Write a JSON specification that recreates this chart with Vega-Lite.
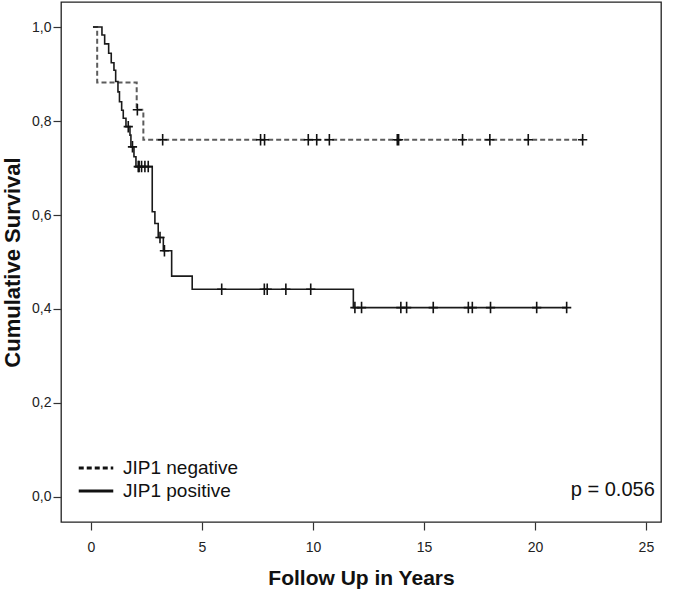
{
  "$schema": "https://vega.github.io/schema/vega-lite/v6.json",
  "width": 600,
  "height": 520,
  "autosize": {"type": "none"},
  "padding": {"left": 61, "top": 2, "right": 15, "bottom": 70},
  "background": "white",
  "config": {
    "view": {"stroke": "#222", "strokeWidth": 1.3},
    "axis": {
      "grid": false,
      "domain": false,
      "tickColor": "#333",
      "tickWidth": 1.2,
      "labelFont": "Liberation Sans",
      "labelFontSize": 14,
      "labelColor": "#222",
      "titleFont": "Liberation Sans",
      "titleFontWeight": "bold",
      "titleColor": "#111"
    },
    "legend": {
      "labelFont": "Liberation Sans",
      "labelFontSize": 19,
      "labelColor": "#111"
    }
  },
  "datasets": {
    "curves": [
      {"group": "JIP1 negative", "time": 0.09, "surv": 1.0},
      {"group": "JIP1 negative", "time": 0.28, "surv": 0.882},
      {"group": "JIP1 negative", "time": 2.06, "surv": 0.824},
      {"group": "JIP1 negative", "time": 2.36, "surv": 0.760},
      {"group": "JIP1 negative", "time": 22.15, "surv": 0.760},
      {"group": "JIP1 positive", "time": 0.09, "surv": 1.0},
      {"group": "JIP1 positive", "time": 0.495, "surv": 0.983},
      {"group": "JIP1 positive", "time": 0.617, "surv": 0.964},
      {"group": "JIP1 positive", "time": 0.797, "surv": 0.944},
      {"group": "JIP1 positive", "time": 0.914, "surv": 0.924},
      {"group": "JIP1 positive", "time": 1.036, "surv": 0.908},
      {"group": "JIP1 positive", "time": 1.113, "surv": 0.884},
      {"group": "JIP1 positive", "time": 1.216, "surv": 0.862},
      {"group": "JIP1 positive", "time": 1.284, "surv": 0.841},
      {"group": "JIP1 positive", "time": 1.383, "surv": 0.823},
      {"group": "JIP1 positive", "time": 1.455, "surv": 0.806},
      {"group": "JIP1 positive", "time": 1.577, "surv": 0.788},
      {"group": "JIP1 positive", "time": 1.757, "surv": 0.770},
      {"group": "JIP1 positive", "time": 1.80, "surv": 0.745},
      {"group": "JIP1 positive", "time": 1.937, "surv": 0.724},
      {"group": "JIP1 positive", "time": 2.027, "surv": 0.703},
      {"group": "JIP1 positive", "time": 2.76, "surv": 0.607},
      {"group": "JIP1 positive", "time": 2.88, "surv": 0.582},
      {"group": "JIP1 positive", "time": 3.03, "surv": 0.552},
      {"group": "JIP1 positive", "time": 3.26, "surv": 0.524},
      {"group": "JIP1 positive", "time": 3.635, "surv": 0.470},
      {"group": "JIP1 positive", "time": 4.56, "surv": 0.442},
      {"group": "JIP1 positive", "time": 11.82, "surv": 0.403},
      {"group": "JIP1 positive", "time": 21.43, "surv": 0.403}
    ],
    "censored": [
      {"group": "JIP1 negative", "time": 2.09, "surv": 0.824},
      {"group": "JIP1 negative", "time": 3.23, "surv": 0.760},
      {"group": "JIP1 negative", "time": 7.64, "surv": 0.760},
      {"group": "JIP1 negative", "time": 7.82, "surv": 0.760},
      {"group": "JIP1 negative", "time": 9.79, "surv": 0.760},
      {"group": "JIP1 negative", "time": 10.17, "surv": 0.760},
      {"group": "JIP1 negative", "time": 10.74, "surv": 0.760},
      {"group": "JIP1 negative", "time": 13.80, "surv": 0.760},
      {"group": "JIP1 negative", "time": 13.86, "surv": 0.760},
      {"group": "JIP1 negative", "time": 16.74, "surv": 0.760},
      {"group": "JIP1 negative", "time": 17.97, "surv": 0.760},
      {"group": "JIP1 negative", "time": 19.70, "surv": 0.760},
      {"group": "JIP1 negative", "time": 22.15, "surv": 0.760},
      {"group": "JIP1 positive", "time": 1.68, "surv": 0.788},
      {"group": "JIP1 positive", "time": 1.87, "surv": 0.745},
      {"group": "JIP1 positive", "time": 2.13, "surv": 0.703},
      {"group": "JIP1 positive", "time": 2.17, "surv": 0.703},
      {"group": "JIP1 positive", "time": 2.28, "surv": 0.703},
      {"group": "JIP1 positive", "time": 2.43, "surv": 0.703},
      {"group": "JIP1 positive", "time": 2.58, "surv": 0.703},
      {"group": "JIP1 positive", "time": 3.11, "surv": 0.552},
      {"group": "JIP1 positive", "time": 3.31, "surv": 0.524},
      {"group": "JIP1 positive", "time": 5.89, "surv": 0.442},
      {"group": "JIP1 positive", "time": 7.81, "surv": 0.442},
      {"group": "JIP1 positive", "time": 7.94, "surv": 0.442},
      {"group": "JIP1 positive", "time": 8.78, "surv": 0.442},
      {"group": "JIP1 positive", "time": 9.90, "surv": 0.442},
      {"group": "JIP1 positive", "time": 11.89, "surv": 0.403},
      {"group": "JIP1 positive", "time": 12.19, "surv": 0.403},
      {"group": "JIP1 positive", "time": 13.96, "surv": 0.403},
      {"group": "JIP1 positive", "time": 14.22, "surv": 0.403},
      {"group": "JIP1 positive", "time": 15.42, "surv": 0.403},
      {"group": "JIP1 positive", "time": 17.00, "surv": 0.403},
      {"group": "JIP1 positive", "time": 17.18, "surv": 0.403},
      {"group": "JIP1 positive", "time": 18.00, "surv": 0.403},
      {"group": "JIP1 positive", "time": 20.08, "surv": 0.403},
      {"group": "JIP1 positive", "time": 21.43, "surv": 0.403}
    ],
    "note": [{"label": "p = 0.056", "time": 25.4, "surv": 0.015}]
  },
  "layer": [
    {
      "data": {"name": "curves"},
      "mark": {"type": "line", "interpolate": "step-after"},
      "encoding": {
        "x": {
          "field": "time", "type": "quantitative",
          "scale": {"domain": [-1.35, 25.68], "nice": false, "zero": false},
          "axis": {"values": [0, 5, 10, 15, 20, 25], "tickSize": 8, "labelPadding": 10, "title": "Follow Up in Years", "titleFontSize": 21, "titlePadding": 13}
        },
        "y": {
          "field": "surv", "type": "quantitative",
          "scale": {"domain": [-0.0532, 1.0532], "nice": false, "zero": false},
          "axis": {"values": [0, 0.2, 0.4, 0.6, 0.8, 1.0], "format": ".1f", "labelExpr": "replace(datum.label, '.', ',')", "tickSize": 8, "labelPadding": 2, "title": "Cumulative Survival", "titleFontSize": 22, "titlePadding": 7}
        },
        "strokeDash": {
          "field": "group", "type": "nominal",
          "scale": {"domain": ["JIP1 negative", "JIP1 positive"], "range": [[5, 3], [1, 0]]},
          "legend": {
            "title": null,
            "orient": "none",
            "legendX": 22,
            "legendY": 453,
            "symbolType": "M-1.5,0L1.5,0",
            "symbolSize": 530,
            "symbolStrokeWidth": 2.8,
            "symbolStrokeColor": "#111",
            "symbolFillColor": "transparent",
            "rowPadding": 0,
            "labelOffset": 14
          }
        },
        "color": {
          "condition": {"test": "datum.group === 'JIP1 negative'", "value": "#5c5c5c"},
          "value": "#1a1a1a"
        },
        "strokeWidth": {
          "condition": {"test": "datum.group === 'JIP1 negative'", "value": 2},
          "value": 1.6
        }
      }
    },
    {
      "data": {"name": "censored"},
      "mark": {"type": "point", "shape": "M-1,0L1,0M0,-1.25L0,1.25", "size": 85, "filled": false, "stroke": "#111", "strokeWidth": 1.6, "opacity": 1},
      "encoding": {
        "x": {"field": "time", "type": "quantitative"},
        "y": {"field": "surv", "type": "quantitative"}
      }
    },
    {
      "data": {"name": "note"},
      "mark": {"type": "text", "align": "right", "baseline": "middle", "font": "Liberation Sans", "fontSize": 20, "color": "#111"},
      "encoding": {
        "x": {"field": "time", "type": "quantitative"},
        "y": {"field": "surv", "type": "quantitative"},
        "text": {"field": "label"}
      }
    }
  ]
}
